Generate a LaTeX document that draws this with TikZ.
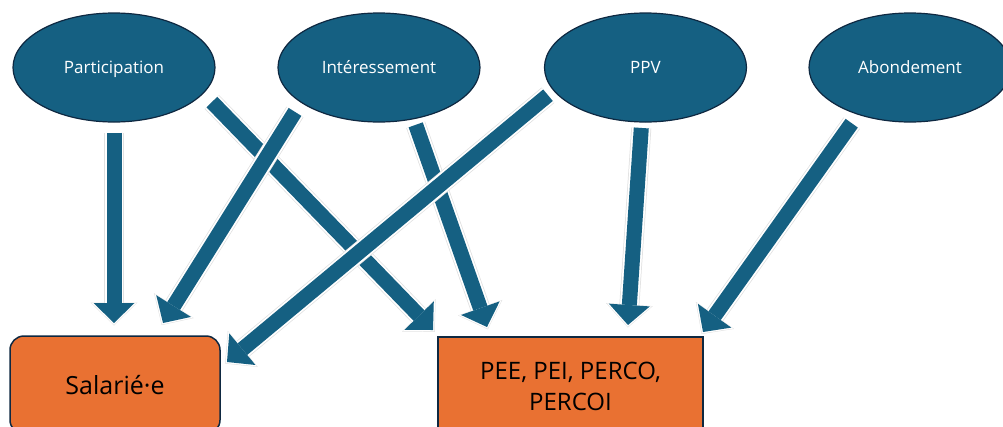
\documentclass[tikz,border=0pt]{standalone}
\usepackage{fontspec}
\setmainfont{Open Sans}
\usepackage{tikz}
\usetikzlibrary{arrows.meta,
shapes.geometric,
calc
}
\definecolor{accentblue}{HTML}{156082}
\definecolor{accentorange}{HTML}{E97132}
\definecolor{outlinedark}{HTML}{0E2841}
\tikzset{
  source/.style={ellipse, fill=accentblue, draw=outlinedark, line width=1.2pt,
    minimum width=202pt, minimum height=109pt, inner sep=0pt, outer sep=0pt,
    text=white, text height=11pt, text depth=0pt, font=\fontsize{17}{20}\selectfont},
  target/.style={rectangle, fill=accentorange, draw=outlinedark, line width=1.5pt,
    minimum height=98pt, inner sep=0pt, outer sep=0pt, align=center, text=black},
  flow/.style={line width=15pt, draw=accentblue,
    -{Triangle[width=41pt, length=20pt, line width=0pt]},
    preaction={draw=black!12, line width=20pt, shorten >=-2.5pt,
      -{Triangle[width=47pt, length=23pt, line width=0pt]}},
    preaction={draw=white, line width=18.5pt, shorten >=-1.8pt,
      -{Triangle[width=45pt, length=22pt, line width=0pt]}}}
}

\begin{document}
\begin{tikzpicture}[x=1pt, y=-1pt]
            \useasboundingbox (0,0) rectangle (1003,426);

            %sources
            \node[source] (part) at (114,67.5) {Participation};
            \node[source] (inter) at (379,67.5) {Intéressement};
            \node[source] (ppv) at (645.5,67.5) {PPV};
            \node[source] (abond) at (910,67.5) {Abondement};

            %targets
            \node[target, rounded corners=14pt, minimum width=210pt,
            font=\fontsize{25}{30}\selectfont] (sal) at (115,385) {Salarié·e};
            \node[target, minimum width=265pt,
            font=\fontsize{24}{31}\selectfont] (plan) at (570.5,386)
            {PEE, PEI, PERCO,\\PERCOI};

            %arrow tips
            \coordinate (sal1) at (114,323);
            \coordinate (sal2) at (163,323);
            \coordinate (sal3) at (227,362);
            \coordinate (plan1) at (433,330);
            \coordinate (plan2) at (487,327);
            \coordinate (plan3) at (628,325);
            \coordinate (plan4) at (703,332);

            %arrows
            \draw[flow, shorten <=10.5pt] (part.south) -- (sal1);
            \draw[flow, shorten <=12.5pt] (part.-16.8) -- (plan1);
            \draw[flow, shorten <=6.5pt] (inter.-56.7) -- (plan2);
            \draw[flow, shorten <=11.5pt] (inter.-156) -- (sal2);
            \draw[flow, shorten <=6pt] (ppv.-94.3) -- (plan3);
            \draw[flow, shorten <=7.6pt] (ppv.-166.9) -- (sal3);
            \draw[flow, shorten <=11pt] (abond.-138.5) -- (plan4);

\end{tikzpicture}
\end{document}
